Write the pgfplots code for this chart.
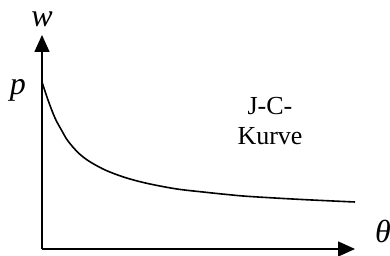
\documentclass[border=0pt]{standalone}
\usepackage{fontspec}
\setmainfont{Liberation Serif}
\usepackage{pgfplots}
\pgfplotsset{compat=1.18}
\usetikzlibrary{arrows.meta}
\begin{document}
\begin{tikzpicture}[x=1pt,y=1pt]
\begin{axis}[
  scale only axis, width=313pt, height=214pt,
  xmin=0, xmax=313, ymin=0, ymax=214,
  axis lines=left,
  axis line style={line width=1.6pt, -{Triangle[length=17pt,width=15pt]}},
  xtick=\empty, ytick=\empty,
  clip=false,
]
\addplot[black, line width=1.6pt, smooth, tension=0.6] coordinates {
 (0,167) (6,149) (13,131) (20,118) (26,108) (36,96.5) (46,88.5)
 (60,80.5) (73,75) (88,70) (108,65) (135,60) (161,57) (185,54.5)
 (208,52.5) (260,49.5) (313,47)
};
\node at (axis cs:0,230) {\fontsize{32}{36}\selectfont\textit{w}};
\node at (axis cs:-24,159) {\fontsize{32}{36}\selectfont\textit{p}};
\node at (axis cs:341,18) {\fontsize{32}{36}\selectfont\textit{θ}};
\node[align=center, font=\fontsize{26}{30}\selectfont] at (axis cs:228,128) {J-C-\\Kurve};
\coordinate (bl) at (axis cs:-42,-7);
\coordinate (tr) at (axis cs:348,249);
\end{axis}
\pgfresetboundingbox
\useasboundingbox (bl) rectangle (tr);
\end{tikzpicture}
\end{document}
